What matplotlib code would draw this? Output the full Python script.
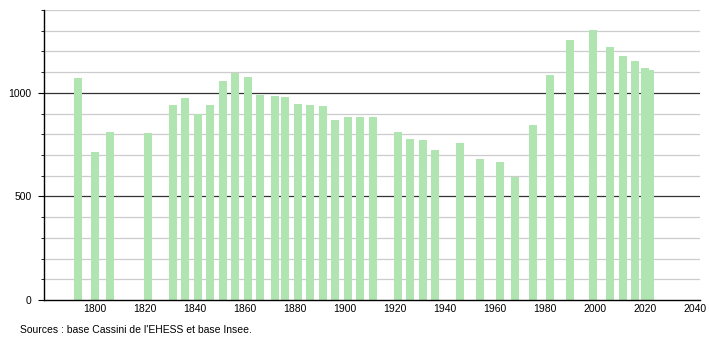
import matplotlib
matplotlib.use("Agg")
import matplotlib.pyplot as plt

years = [1793, 1800, 1806, 1821, 1831, 1836, 1841, 1846, 1851, 1856, 1861, 1866,
         1872, 1876, 1881, 1886, 1891, 1896, 1901, 1906, 1911, 1921, 1926, 1931,
         1936, 1946, 1954, 1962, 1968, 1975, 1982, 1990, 1999, 2006, 2011, 2016,
         2020, 2022]
population = [1072, 714, 810, 805, 940, 974, 897, 940, 1058, 1095, 1076, 989,
              984, 979, 947, 940, 935, 870, 883, 883, 883, 810, 778, 773,
              723, 757, 680, 665, 596, 844, 1085, 1256, 1303, 1219, 1177, 1153,
              1119, 1111]
xticks = list(range(1800, 2041, 20))
yticks_major = [0, 500, 1000]
source_text = "Sources : base Cassini de l'EHESS et base Insee."

plt.rcParams['font.family'] = ['Liberation Sans', 'DejaVu Sans']

fig = plt.figure(figsize=(7.1, 3.4), dpi=100)
ax = fig.add_axes([44/710, 40/340, 656/710, 290/340])

ax.set_xlim(1779.6, 2042)
ax.set_ylim(0, 1400)

# grid lines
for v in range(100, 1401, 100):
    if v % 500 == 0:
        ax.axhline(v, color='#333333', lw=0.9, zorder=1)
    else:
        ax.axhline(v, color='#cccccc', lw=0.9, zorder=1)

ax.bar(years, population, width=3.2, color='#b0e4b0', zorder=2, linewidth=0)

for s in ['top', 'right']:
    ax.spines[s].set_visible(False)
ax.spines['left'].set_color('black')
ax.spines['bottom'].set_color('black')
ax.spines['left'].set_linewidth(1.0)
ax.spines['bottom'].set_linewidth(1.0)

ax.set_xticks(xticks)
ax.set_xticklabels([str(t) for t in xticks])
ax.tick_params(axis='x', length=0, pad=3, labelsize=7.5, colors='black')
ax.set_yticks(yticks_major)
ax.set_yticklabels([str(t) for t in yticks_major])
ax.set_yticks(range(0, 1401, 100), minor=True)
ax.tick_params(axis='y', which='major', length=4, pad=5, labelsize=7.5)
ax.tick_params(axis='y', which='minor', length=2)

fig.text(20/710, 1 - 330/340, source_text, fontsize=7.5, va='center', ha='left')

fig.savefig('out.png', dpi=100)
